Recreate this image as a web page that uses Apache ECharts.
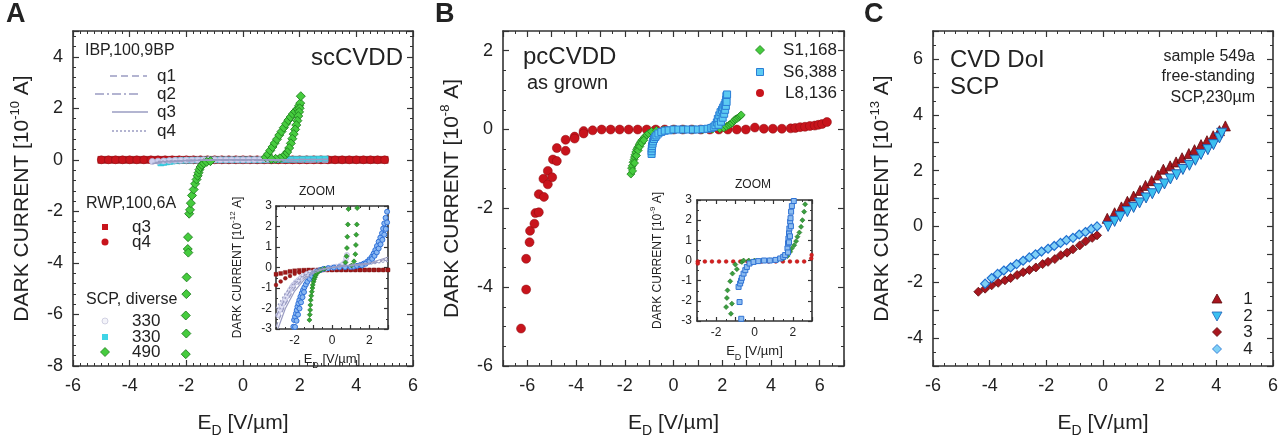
<!DOCTYPE html>
<html><head><meta charset="utf-8">
<script src="https://cdn.jsdelivr.net/npm/echarts@6/dist/echarts.min.js"></script>
<style>html,body{margin:0;padding:0;background:#fff}#c{width:1288px;height:443px}</style>
</head><body><div id="c"></div>
<script>
// ---------------- Panel A (main, 1e-10 A) ----------------
const aRWP_x  = [-5,-4.75,-4.5,-4.25,-4,-3.75,-3.5,-3.25,-3,-2.75,-2.5,-2.25,-2,-1.75,-1.5,-1.25,-1,-0.75,-0.5,-0.25,0,0.25,0.5,0.75,1,1.25,1.5,1.75,2,2.25,2.5,2.75,3,3.25,3.5,3.75,4,4.25,4.5,4.75,5];
const aRWP_q3 = [0,0,0,0,0,0,0,0,0,0,0,0,0,0,0,0,0,0,0,0,0,0,0,0,0,0,0,0,0,0,0,0,0,0,0,0,0,0,0,0,0];
const aRWP_q4 = [0,0,0,0,0,0,0,0,0,0,0,0,0,0,0,0,0,0,0,0,0,0,0,0,0,0,0,0,0,0,0,0,0,0,0,0,0,0,0,0,0];
const aIBP_q1 = [[-3.1,-0.1],[-2.6,-0.06],[-2,-0.03],[-1.5,-0.015],[-1,-0.005],[0,0],[1,0.005],[2,0.01],[3,0.02]];
const aIBP_q2 = [[-3.2,-0.14],[-2.6,-0.08],[-2,-0.04],[-1.5,-0.02],[-1,-0.01],[0,0],[1,-0.02],[2,-0.08],[3,-0.09]];
const aIBP_q3 = [[-3.0,-0.08],[-2.5,-0.05],[-2,-0.025],[-1,-0.005],[0,0],[1,0.005],[2,0.01],[3,0.015]];
const aIBP_q4 = [[-3.0,-0.06],[-2.5,-0.04],[-2,-0.02],[-1,0],[0,0],[1,-0.02],[2,-0.07],[3,-0.08]];
const aSCP330c = [[-2.9,-0.12],[-2.8,-0.1],[-2.7,-0.08],[-2.6,-0.06],[-2.5,-0.05],[-2.3,-0.03],[-2.1,-0.02],[-1.9,-0.015],[-1.7,-0.01],[-1.5,-0.005],[-1.3,0],[-1.1,0],[-0.9,0],[-0.7,0],[-0.5,0],[-0.3,0],[-0.1,0],[0.1,0],[0.3,0],[0.5,0],[0.7,0],[0.9,0.005],[1.1,0.01],[1.3,0.01],[1.5,0.01],[1.7,0.015],[1.9,0.02],[2.1,0.02],[2.3,0.025],[2.5,0.025],[2.7,0.03],[2.9,0.03]];
const aSCP330w = [[-3.2,-0.06],[-3.0,-0.05],[-2.8,-0.04],[-2.6,-0.03],[-2.4,-0.02],[-2.2,-0.015],[-2.0,-0.01],[-1.8,-0.01],[-1.6,-0.005],[-1.4,0],[-1.2,0],[-1.0,0],[-0.8,0],[-0.6,0],[-0.4,0],[-0.2,0],[0,0],[0.2,0],[0.4,0.005],[0.6,0.01],[0.8,0.02],[0.9,0.03]];
const aSCP490 = [[-2.02,-7.54],[-2.0,-6.74],[-2.02,-6.04],[-2.0,-5.21],[-1.99,-4.56],[-1.95,-3.46],[-1.93,-3.6],[-1.94,-3.0],[-1.9,-2.09],[-1.87,-1.94],[-1.84,-1.68],[-1.8,-1.38],[-1.74,-1.15],[-1.69,-0.93],[-1.64,-0.76],[-1.6,-0.62],[-1.57,-0.5],[-1.54,-0.38],[-1.5,-0.28],[-1.45,-0.2],[-1.38,-0.13],[-1.28,-0.08],[-1.15,-0.05],
  [0.8,0.1],[0.88,0.22],[0.96,0.36],[1.04,0.5],[1.12,0.65],[1.2,0.8],[1.28,0.96],[1.36,1.1],[1.44,1.25],[1.52,1.4],[1.6,1.54],[1.68,1.66],[1.76,1.78],[1.84,1.88],[1.92,1.98],[1.98,2.1],[2.02,2.2],[2.04,2.47],
  [2.0,2.0],[1.98,1.86],[1.95,1.7],[1.92,1.52],[1.88,1.35],[1.84,1.18],[1.79,1.0],[1.74,0.82],[1.69,0.64],[1.63,0.46],[1.56,0.3],[1.48,0.18],[1.4,0.1],[1.3,0.06],[1.15,0.04],[1.0,0.03]];

// ---------------- Panel A inset (1e-12 A) ----------------
const iA_RWP_x  = [-3,-2.75,-2.5,-2.25,-2,-1.75,-1.5,-1.25,-1,-0.75,-0.5,-0.25,0,0.25,0.5,0.75,1,1.25,1.5,1.75,2,2.25,2.5,2.75,3];
const iA_RWP_q3 = [-0.33,-0.29,-0.24,-0.19,-0.16,-0.14,-0.13,-0.12,-0.12,-0.12,-0.12,-0.12,-0.12,-0.12,-0.12,-0.12,-0.12,-0.12,-0.12,-0.12,-0.12,-0.12,-0.12,-0.12,-0.12];
const iA_RWP_q4 = [-0.85,-0.68,-0.53,-0.41,-0.31,-0.24,-0.19,-0.16,-0.14,-0.13,-0.12,-0.12,-0.12,-0.12,-0.12,-0.12,-0.12,-0.12,-0.12,-0.12,-0.12,-0.12,-0.12,-0.12,-0.12];
const iA_IBP_q1 = [[-3,-2.9],[-2.5,-1.8],[-2,-1.0],[-1.5,-0.5],[-1,-0.22],[-0.5,-0.08],[0,0],[0.5,0.06],[1,0.1],[1.5,0.14],[2,0.2],[2.5,0.3],[3,0.45]];
const iA_IBP_q2 = [[-3,-2.4],[-2.5,-1.5],[-2,-0.8],[-1.5,-0.4],[-1,-0.18],[-0.5,-0.06],[0,0],[0.5,0.05],[1,0.08],[1.5,0.12],[2,0.18],[2.5,0.26],[3,0.38]];
const iA_IBP_q3 = [[-2.9,-3],[-2.5,-2.0],[-2,-1.15],[-1.5,-0.6],[-1,-0.28],[-0.5,-0.1],[0,0],[0.5,0.1],[1,0.12],[2,0.22],[3,0.5]];
const iA_IBP_q4 = [[-3,-2.0],[-2.5,-1.25],[-2,-0.7],[-1.5,-0.35],[-1,-0.15],[-0.5,-0.05],[0,0],[0.5,0.05],[1,0.1],[2,0.15],[3,0.3]];
const iA_SCP330w = [[-2.88,-2.32],[-2.79,-2.07],[-2.7,-1.9],[-2.61,-1.75],[-2.52,-1.58],[-2.43,-1.42],[-2.34,-1.26],[-2.25,-1.1],[-2.16,-0.97],[-2.07,-0.85],[-1.94,-0.72],[-1.8,-0.61],[-1.66,-0.5],[-1.53,-0.41],[-1.35,-0.32],[-1.17,-0.25],[-0.9,-0.18],[-0.64,-0.12],[-0.32,-0.06],[0,0],[0.22,0.04],[0.44,0.09],[0.6,0.17],[0.71,0.28],[0.76,0.45],[0.8,0.61]];
const iA_SCP330c = [[-2.07,-2.89],[-2.03,-2.56],[-1.98,-2.4],[-1.93,-2.24],[-1.89,-2.08],[-1.85,-1.91],[-1.8,-1.75],[-1.75,-1.59],[-1.69,-1.42],[-1.62,-1.26],[-1.55,-1.1],[-1.48,-0.97],[-1.4,-0.83],[-1.32,-0.69],[-1.2,-0.55],[-1.08,-0.41],[-0.95,-0.3],[-0.82,-0.2],[-0.64,-0.13],[-0.46,-0.07],[-0.2,-0.03],[0.1,0],[0.4,0.01],[0.7,0.02],[1.0,0.03],[1.16,0.04],[1.34,0.08],[1.52,0.12],[1.7,0.19],[1.88,0.28],[2.01,0.4],[2.14,0.53],[2.23,0.68],[2.32,0.85],[2.41,1.05],[2.5,1.26],[2.59,1.46],[2.68,1.67],[2.74,1.9],[2.8,2.15],[2.87,2.42],[2.95,2.72],
  [-1.98,-2.9],[-1.9,-2.6],[-1.82,-2.3],[-1.74,-2.0],[-1.66,-1.7],[-1.58,-1.45],[-1.5,-1.2],
  [1.6,0.1],[1.8,0.18],[2.0,0.3],[2.15,0.42],[2.28,0.57],[2.4,0.74],[2.5,0.93],[2.6,1.13],[2.7,1.35],[2.8,1.6],[2.88,1.88],[2.95,2.2]];
const iA_SCP490 = [[-1.21,-2.56],[-1.19,-2.3],[-1.17,-2.07],[-1.16,-1.83],[-1.14,-1.59],[-1.11,-1.38],[-1.08,-1.18],[-1.05,-1.0],[-1.03,-0.85],[-0.99,-0.7],[-0.96,-0.58],[-0.91,-0.47],[-0.87,-0.37],[-0.8,-0.27],[-0.73,-0.2],[-0.6,-0.12],[-0.4,-0.06],
  [0.72,0.25],[0.78,0.55],[0.8,0.95],[0.82,1.5],[0.85,2.1],[0.88,2.85],
  [1.05,0.1],[1.18,0.3],[1.25,0.65],[1.28,1.1],[1.3,1.6],[1.33,2.1],[1.35,2.9]];

// ---------------- Panel B (main, 1e-8 A) ----------------
const bL8 = [[-6.26,-5.05],[-6.05,-4.06],[-6.05,-3.28],[-5.91,-2.86],[-5.89,-2.57],[-5.71,-2.39],[-5.67,-2.12],[-5.53,-2.1],[-5.53,-1.64],[-5.32,-1.71],[-5.34,-1.25],[-5.16,-1.39],[-5.16,-1.05],[-4.98,-1.21],[-4.95,-0.76],[-4.79,-0.8],[-4.79,-0.47],[-4.43,-0.54],[-4.43,-0.26],[-4.06,-0.18],[-4.06,-0.23],[-3.69,-0.04],[-3.69,-0.1],[-3.32,-0.02],[-2.95,0],[-2.58,0],[-2.21,0],[-1.84,0],[-1.47,0],[-1.1,0],[-0.73,0],[-0.36,0],[0.01,0],[0.38,0],[0.75,0],[1.12,0],[1.49,0],[1.86,0],[2.23,0],[2.6,0],[2.97,0],[3.34,0.05],[3.71,0.02],[4.08,0.02],[4.45,0.02],[4.81,0.03],[5.0,0.04],[5.2,0.06],[5.4,0.07],[5.6,0.09],[5.8,0.1],[5.95,0.12],[6.1,0.14],[6.3,0.19]];
const bS1 = [[-1.75,-1.13],[-1.72,-0.98],[-1.69,-0.92],[-1.66,-0.83],[-1.62,-0.76],[-1.6,-0.7],[-1.58,-0.64],[-1.55,-0.57],[-1.51,-0.51],[-1.48,-0.47],[-1.44,-0.43],[-1.41,-0.39],[-1.38,-0.35],[-1.33,-0.3],[-1.28,-0.26],[-1.22,-0.22],[-1.17,-0.18],[-1.1,-0.14],[-1.03,-0.1],[-0.9,-0.05],[-0.7,-0.02],[-0.4,-0.01],[0,0],[0.4,0],[0.8,0],[1.2,0],[1.6,0.01],[1.9,0.02],[2.06,0.04],[2.17,0.08],[2.27,0.11],[2.34,0.14],[2.41,0.17],[2.48,0.22],[2.54,0.26],[2.61,0.28],[2.68,0.31],[2.73,0.34],[2.78,0.37],
  [-1.68,-1.05],[-1.6,-0.85],[-1.52,-0.66],[-1.45,-0.53],[-1.38,-0.43],[-1.3,-0.34],[-1.22,-0.27]];
const bS6 = [[-0.9,-0.62],[-0.9,-0.55],[-0.89,-0.48],[-0.88,-0.42],[-0.86,-0.36],[-0.84,-0.3],[-0.8,-0.24],[-0.75,-0.19],[-0.7,-0.15],[-0.62,-0.1],[-0.5,-0.06],[-0.36,-0.03],[-0.2,-0.02],[0,0],[0.2,0],[0.4,0],[0.6,0],[0.8,0],[1.0,0],[1.2,0.01],[1.4,0.02],[1.55,0.04],[1.65,0.07],[1.72,0.11],[1.78,0.18],[1.82,0.27],[1.88,0.36],[1.93,0.44],[1.99,0.5],[2.04,0.56],[2.09,0.62],[2.13,0.68],[2.16,0.76],[2.17,0.85],[2.2,0.89],
  [1.85,0.12],[1.95,0.2],[2.02,0.3],[2.08,0.4],[2.12,0.5],[2.15,0.6],[2.18,0.7]];

// ---------------- Panel B inset (1e-9 A) ----------------
const iB_L8 = [[-2.96,-0.05],[-2.96,-0.15],[-2.59,-0.05],[-2.22,-0.05],[-1.85,-0.05],[-1.48,-0.05],[-1.11,-0.05],[-0.74,-0.05],[-0.37,-0.05],[0,-0.05],[0.37,-0.05],[0.74,-0.05],[1.11,-0.05],[1.48,-0.05],[1.85,-0.05],[2.22,-0.05],[2.59,-0.05],[2.96,0.1],[2.98,0.27]];
const iB_S1 = [[-1.23,-2.64],[-1.48,-2.31],[-1.18,-2.14],[-1.44,-1.86],[-1.41,-1.48],[-1.27,-1.03],[-1.15,-0.65],[-0.92,-0.43],[-1.0,-0.2],[-0.66,-0.07],[-0.57,0],[-0.3,0],[0,0],[0.4,0],[0.8,0.01],[1.2,0.03],[1.5,0.1],[1.72,0.22],[1.86,0.43],[1.94,0.6],[2.07,0.76],[2.17,0.96],[2.24,1.18],[2.34,1.39],[2.43,1.67],[2.5,2.0],[2.59,2.42],[2.64,2.79]];
const iB_S6 = [[-0.69,-2.89],[-0.78,-2.06],[-0.83,-1.31],[-0.75,-1.14],[-0.7,-1.0],[-0.66,-0.86],[-0.57,-0.65],[-0.48,-0.48],[-0.4,-0.32],[-0.26,-0.15],[-0.05,-0.07],[0.2,-0.03],[0.5,0],[0.8,0],[1.1,0.03],[1.34,0.1],[1.5,0.18],[1.6,0.27],[1.72,0.6],[1.75,0.85],[1.77,1.09],[1.8,1.35],[1.82,1.59],[1.86,1.92],[1.88,2.1],[1.91,2.42],[1.95,2.7],[2.05,2.95],[1.9,1.7],[1.85,1.2],[1.8,0.9],[1.75,0.4]];

// ---------------- Panel C (1e-13 A) ----------------
const c1 = [[0.15,0.29],[0.41,0.49],[0.65,0.7],[0.86,0.9],[1.08,1.09],[1.31,1.29],[1.5,1.47],[1.72,1.64],[1.94,1.84],[2.13,2.05],[2.37,2.17],[2.58,2.31],[2.79,2.46],[3.03,2.61],[3.23,2.75],[3.46,2.93],[3.67,3.07],[3.89,3.25],[4.11,3.43],[4.32,3.6]];
const c2 = [[0.18,0.0],[0.41,0.18],[0.61,0.35],[0.86,0.53],[1.08,0.68],[1.29,0.84],[1.52,1.02],[1.74,1.17],[1.96,1.35],[2.17,1.52],[2.38,1.7],[2.6,1.85],[2.82,2.04],[3.05,2.19],[3.26,2.37],[3.46,2.58],[3.7,2.75],[3.9,2.93],[4.11,3.17],[4.19,3.34]];
const c3 = [[-4.4,-2.34],[-4.16,-2.23],[-3.93,-2.11],[-3.7,-2.02],[-3.46,-1.93],[-3.26,-1.85],[-3.03,-1.74],[-2.82,-1.64],[-2.6,-1.56],[-2.37,-1.47],[-2.13,-1.35],[-1.94,-1.27],[-1.7,-1.17],[-1.49,-1.03],[-1.27,-0.94],[-1.06,-0.82],[-0.82,-0.68],[-0.61,-0.53],[-0.38,-0.41],[-0.21,-0.32]];
const c4 = [[-4.16,-2.05],[-3.93,-1.85],[-3.72,-1.7],[-3.5,-1.58],[-3.26,-1.47],[-3.05,-1.35],[-2.82,-1.23],[-2.6,-1.11],[-2.38,-1.0],[-2.17,-0.9],[-1.94,-0.8],[-1.72,-0.7],[-1.5,-0.59],[-1.29,-0.49],[-1.06,-0.41],[-0.84,-0.29],[-0.62,-0.2],[-0.41,-0.09],[-0.21,0.0]];

// ---------------- build ----------------
const FONT = '"Liberation Sans", Arial, sans-serif';
const AX = '#333';
const zip = (xs, ys) => xs.map((x, i) => [x, ys[i]]);
const evenOnly = v => { const r = Math.round(v); return (Math.abs(v - r) < 1e-6 && r % 2 === 0) ? String(r) : ''; };

function yName(exp, fs, sfs) {
  return {
    name: '{a|DARK CURRENT [10}{s|' + exp + '}{a| A]}',
    rich: { a: { fontSize: fs, fontFamily: FONT, color: '#222', lineHeight: fs + 6 },
            s: { fontSize: sfs, fontFamily: FONT, color: '#222', verticalAlign: 'top', lineHeight: sfs } }
  };
}
function xName(fs, sfs) {
  return {
    name: '{a|E}{b|D}{a| [V/µm]}',
    rich: { a: { fontSize: fs, fontFamily: FONT, color: '#222', lineHeight: fs + 8 },
            b: { fontSize: sfs, fontFamily: FONT, color: '#222', verticalAlign: 'bottom', lineHeight: sfs } }
  };
}
function axes(kind, gi, o) {
  const base = {
    type: 'value', gridIndex: gi, min: o.min, max: o.max, interval: o.interval,
    axisLine: { show: true, onZero: false, lineStyle: { color: AX, width: 1.6 } },
    axisTick: { show: true, inside: true, length: o.tick, lineStyle: { color: AX, width: 1.2 } },
    minorTick: { show: true, splitNumber: o.minor, length: Math.round(o.tick * 0.55), lineStyle: { color: AX, width: 1 } },
    splitLine: { show: false }, minorSplitLine: { show: false }
  };
  const main = Object.assign({}, base, {
    position: kind === 'x' ? 'bottom' : 'left',
    axisLabel: { show: true, fontSize: o.fs, color: '#222', fontFamily: FONT, margin: o.margin,
                 showMaxLabel: o.showMax !== false, showMinLabel: true,
                 formatter: o.even ? evenOnly : (v => String(Math.round(v * 100) / 100)) },
    name: o.nm.name, nameLocation: 'middle', nameGap: o.gap,
    nameTextStyle: { fontFamily: FONT, color: '#222', rich: o.nm.rich }
  });
  const mirror = Object.assign({}, base, {
    position: kind === 'x' ? 'top' : 'right', axisLabel: { show: false }, name: ''
  });
  return [main, mirror];
}

const grids = [
  { left: 73, top: 31, width: 340, height: 341 },
  { left: 276, top: 206, width: 112, height: 123, show: true, backgroundColor: '#fff', borderWidth: 0 },
  { left: 503, top: 31, width: 341, height: 341 },
  { left: 697, top: 200, width: 115, height: 121, show: true, backgroundColor: '#fff', borderWidth: 0 },
  { left: 933, top: 31, width: 340, height: 341 }
];
const xAxes = [].concat(
  axes('x', 0, { min: -6, max: 6, interval: 2, minor: 8, tick: 6, fs: 18, margin: 11, nm: xName(21, 14), gap: 43 }),
  axes('x', 1, { min: -3, max: 3, interval: 1, minor: 2, tick: 4, fs: 12, margin: 6, even: true, nm: xName(13, 9), gap: 20 }),
  axes('x', 2, { min: -7, max: 7, interval: 1, minor: 2, tick: 6, fs: 18, margin: 11, even: true, nm: xName(21, 14), gap: 43 }),
  axes('x', 3, { min: -3, max: 3, interval: 1, minor: 2, tick: 4, fs: 12, margin: 6, even: true, nm: xName(13, 9), gap: 20 }),
  axes('x', 4, { min: -6, max: 6, interval: 2, minor: 5, tick: 6, fs: 18, margin: 11, nm: xName(21, 14), gap: 43 })
);
const yAxes = [].concat(
  axes('y', 0, { min: -8, max: 5, interval: 2, minor: 5, tick: 6, fs: 18, margin: 10, showMax: false, nm: yName('-10', 21, 13), gap: 37 }),
  axes('y', 1, { min: -3, max: 3, interval: 1, minor: 2, tick: 4, fs: 12, margin: 4, nm: yName('-12', 12, 8), gap: 29 }),
  axes('y', 2, { min: -6, max: 2.5, interval: 2, minor: 4, tick: 6, fs: 18, margin: 10, showMax: false, nm: yName('-8', 21, 13), gap: 37 }),
  axes('y', 3, { min: -3, max: 3, interval: 1, minor: 2, tick: 4, fs: 12, margin: 5, nm: yName('-9', 12, 8), gap: 30 }),
  axes('y', 4, { min: -5, max: 7, interval: 1, minor: 2, tick: 6, fs: 18, margin: 10, even: true, nm: yName('-13', 21, 13), gap: 37 })
);

function sc(g, data, symbol, size, fill, stroke, bw, extra) {
  return Object.assign({ type: 'scatter', xAxisIndex: 2 * g, yAxisIndex: 2 * g, data: data, symbol: symbol,
    symbolSize: size, itemStyle: { color: fill, borderColor: stroke, borderWidth: bw || 0, opacity: 1 },
    emphasis: { disabled: true }, clip: false }, extra || {});
}
function ln(g, data, color, type, w) {
  return { type: 'line', xAxisIndex: 2 * g, yAxisIndex: 2 * g, data: data, showSymbol: false, symbol: 'none',
    lineStyle: { color: color, width: w || 1.5, type: type }, emphasis: { disabled: true } };
}
const RED = '#c8141c', REDE = '#8a0c10';
const GRN = '#46cc3e', GRNE = '#1f7f1f';
const LAV = '#cfd0ee', LAVE = '#b4b6dc';
const CYA = '#3fd4e6';
const LINEC = '#9a9cc2';

const series = [
  // A main
  sc(0, zip(aRWP_x, aRWP_q3), 'rect', 7, RED, REDE, 0.5),
  sc(0, zip(aRWP_x, aRWP_q4), 'circle', 8, RED, REDE, 0.5),
  ln(0, aIBP_q1, LINEC, [7, 4]),
  ln(0, aIBP_q2, LINEC, [9, 3, 2, 3]),
  ln(0, aIBP_q3, LINEC, 'solid'),
  ln(0, aIBP_q4, LINEC, [2, 2]),
  sc(0, aSCP330c, 'rect', 6, CYA, '#2cbcd0', 0.5),
  sc(0, aSCP330w, 'circle', 6, LAV, LAVE, 0.8),
  sc(0, aSCP490, 'diamond', 9, GRN, GRNE, 0.9),
  // A inset
  sc(1, zip(iA_RWP_x, iA_RWP_q3), 'rect', 4, '#a01818', '#701010', 0.3),
  sc(1, zip(iA_RWP_x, iA_RWP_q4), 'circle', 4, '#a01818', '#701010', 0.3),
  ln(1, iA_IBP_q1, LINEC, [5, 3], 1.2),
  ln(1, iA_IBP_q2, LINEC, [6, 2, 2, 2], 1.2),
  ln(1, iA_IBP_q3, LINEC, 'solid', 1.2),
  ln(1, iA_IBP_q4, LINEC, [2, 2], 1.2),
  sc(1, iA_SCP330w, 'circle', 5, '#e4e4f6', '#b8bade', 0.8),
  sc(1, iA_SCP330c, 'circle', 5, '#8ab8f2', '#2f70d8', 1),
  sc(1, iA_SCP490, 'diamond', 5, '#36a836', '#1c701c', 0.6),
  // B main
  sc(2, bL8, 'circle', 9, RED, REDE, 0.5),
  sc(2, bS1, 'diamond', 8, GRN, GRNE, 0.8),
  sc(2, bS6, 'rect', 7, '#5ccaf2', '#2a7ed6', 1),
  // B inset
  sc(3, iB_L8, 'circle', 4, '#d42020', '#a01010', 0.3),
  sc(3, iB_S1, 'diamond', 5, '#3aa040', '#1c6c20', 0.6),
  sc(3, iB_S6, 'rect', 5, '#8cbcf0', '#2f72d4', 1),
  // C
  sc(4, c1, 'triangle', 10, '#a8161e', '#5e0a0e', 0.8),
  sc(4, c2, 'triangle', 10, '#3cc0f0', '#1f5fb8', 1, { symbolRotate: 180 }),
  sc(4, c3, 'diamond', 9, '#a8161e', '#5e0a0e', 0.8),
  sc(4, c4, 'diamond', 9, '#7fd0f6', '#1f6fd0', 1.2)
];

function T(x, y, text, size, align, weight) {
  return { type: 'text', x: x, y: y, z: 100, silent: true,
    style: { text: text, font: (weight || 'normal') + ' ' + size + 'px ' + FONT, fill: '#222',
             align: align || 'left', verticalAlign: 'middle' } };
}
function dia(cx, cy, r, fill, stroke) {
  return { type: 'polygon', z: 100, silent: true, shape: { points: [[cx, cy - r], [cx + r, cy], [cx, cy + r], [cx - r, cy]] }, style: { fill: fill, stroke: stroke, lineWidth: 0.8 } };
}
function tri(cx, cy, r, up, fill, stroke) {
  const p = up ? [[cx, cy - r], [cx + r, cy + r * 0.8], [cx - r, cy + r * 0.8]] : [[cx, cy + r], [cx + r, cy - r * 0.8], [cx - r, cy - r * 0.8]];
  return { type: 'polygon', z: 100, silent: true, shape: { points: p }, style: { fill: fill, stroke: stroke, lineWidth: 0.8 } };
}
function L(x1, x2, y, dash) {
  return { type: 'line', z: 100, silent: true, shape: { x1: x1, y1: y, x2: x2, y2: y }, style: { stroke: LINEC, lineWidth: 1.5, lineDash: dash } };
}
const graphics = [
  T(6, 15, 'A', 27, 'left', 'bold'), T(435, 15, 'B', 27, 'left', 'bold'), T(864, 15, 'C', 27, 'left', 'bold'),
  // A
  T(403, 58, 'scCVDD', 24, 'right'),
  T(85, 51, 'IBP,100,9BP', 16),
  L(110, 147, 76, [7, 4]), T(157, 76, 'q1', 17),
  L(95, 140, 94, [9, 3, 2, 3]), T(157, 94, 'q2', 17),
  L(112, 148, 112, null), T(157, 112, 'q3', 17),
  L(112, 148, 131, [2, 2]), T(157, 131, 'q4', 17),
  T(86, 204, 'RWP,100,6A', 16),
  { type: 'rect', z: 100, silent: true, shape: { x: 102, y: 224, width: 6, height: 6 }, style: { fill: RED } }, T(132, 227, 'q3', 17),
  { type: 'circle', z: 100, silent: true, shape: { cx: 105, cy: 242, r: 3.5 }, style: { fill: RED } }, T(132, 242, 'q4', 17),
  T(86, 300, 'SCP, diverse', 16),
  { type: 'circle', z: 100, silent: true, shape: { cx: 105, cy: 321, r: 3 }, style: { fill: '#f4f4fa', stroke: '#c8c8dc', lineWidth: 0.8 } }, T(132, 321, '330', 17),
  { type: 'rect', z: 100, silent: true, shape: { x: 102, y: 334, width: 6, height: 6 }, style: { fill: CYA } }, T(132, 337, '330', 17),
  dia(105, 352, 4.5, GRN, GRNE), T(132, 352, '490', 17),
  T(317, 192, 'ZOOM', 12, 'center'),
  // B
  T(523, 57, 'pcCVDD', 24), T(527, 83, 'as grown', 20),
  dia(760, 50, 4.5, GRN, GRNE), T(837, 50, 'S1,168', 17, 'right'),
  { type: 'rect', z: 100, silent: true, shape: { x: 756.5, y: 68.5, width: 7, height: 7 }, style: { fill: '#5ccaf2', stroke: '#2a7ed6', lineWidth: 1 } }, T(837, 72, 'S6,388', 17, 'right'),
  { type: 'circle', z: 100, silent: true, shape: { cx: 760, cy: 93, r: 4 }, style: { fill: RED } }, T(837, 93, 'L8,136', 17, 'right'),
  T(753, 185, 'ZOOM', 12, 'center'),
  // C
  T(950, 60, 'CVD DoI', 24), T(950, 87, 'SCP', 24),
  T(1255, 57, 'sample 549a', 16, 'right'), T(1255, 77, 'free-standing', 16, 'right'), T(1255, 98, 'SCP,230µm', 16, 'right'),
  tri(1217, 299, 5, true, '#a8161e', '#5e0a0e'), T(1248, 299, '1', 17, 'center'),
  tri(1217, 316, 5, false, '#3cc0f0', '#1f5fb8'), T(1248, 316, '2', 17, 'center'),
  dia(1217, 332, 4.5, '#a8161e', '#5e0a0e'), T(1248, 332, '3', 17, 'center'),
  dia(1217, 349, 4.5, '#7fd0f6', '#1f6fd0'), T(1248, 349, '4', 17, 'center')
];

const chart = echarts.init(document.getElementById('c'), null, { renderer: 'canvas' });
chart.setOption({
  animation: false, backgroundColor: '#fff',
  grid: grids, xAxis: xAxes, yAxis: yAxes, series: series, graphic: { elements: graphics }
});
</script></body></html>
